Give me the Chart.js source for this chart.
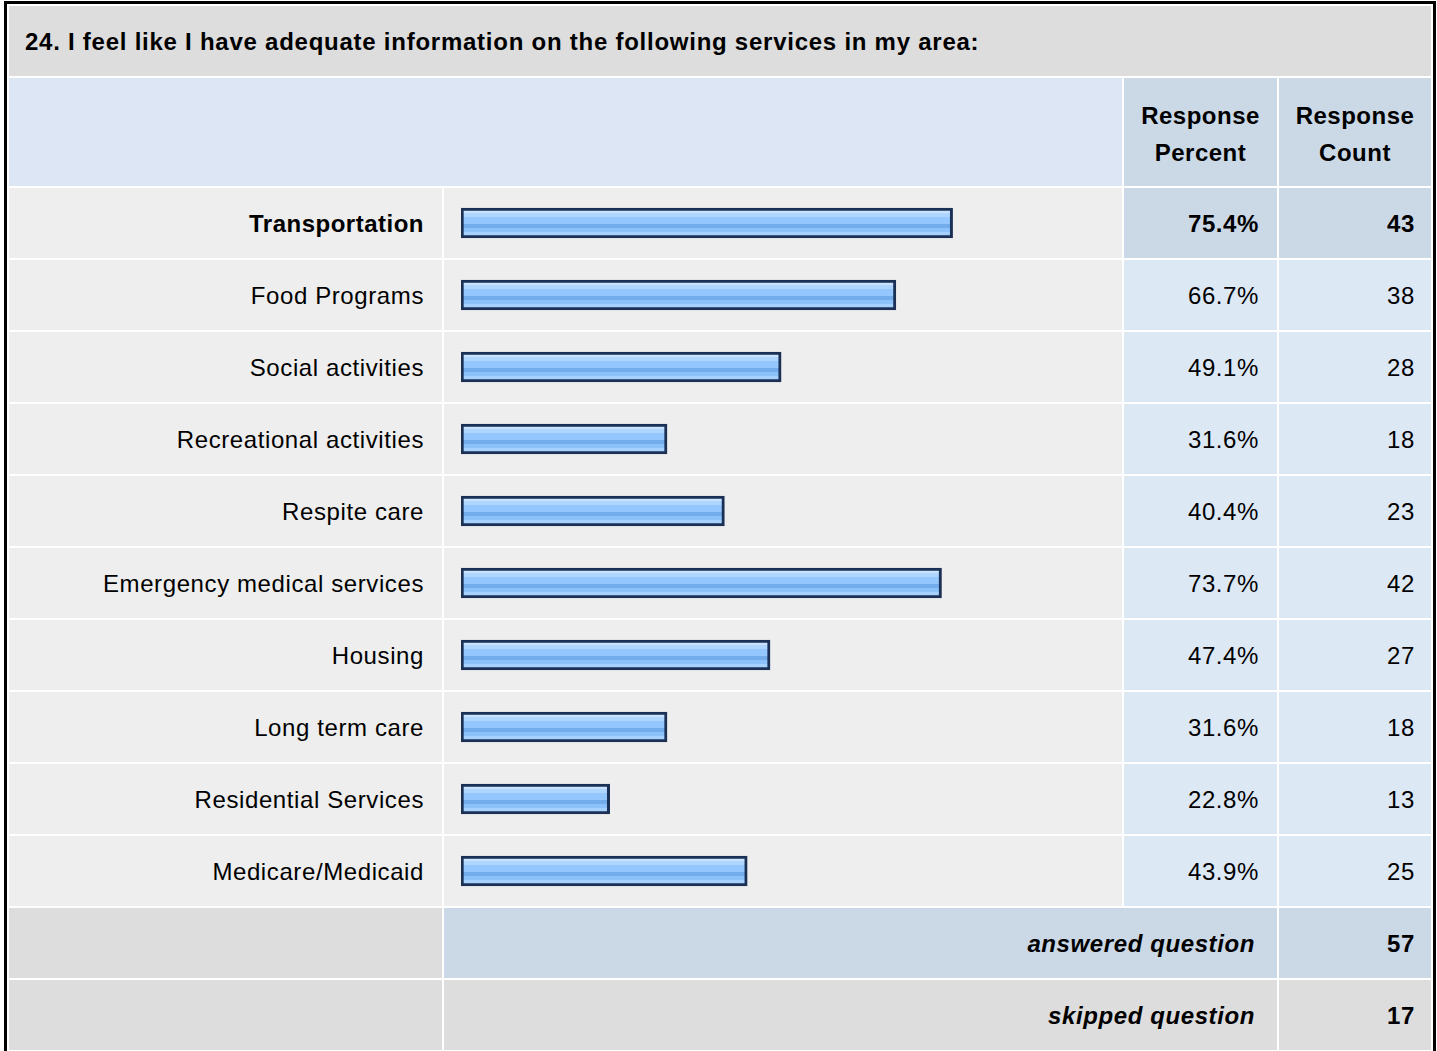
<!DOCTYPE html>
<html>
<head>
<meta charset="utf-8">
<title>Survey question 24</title>
<script src="https://cdn.jsdelivr.net/npm/chart.js@4"></script>
<style>
  html, body { margin: 0; padding: 0; background: #fff; }
  body { width: 1437px; height: 1051px; overflow: hidden; position: relative;
         font-family: "Liberation Sans", Arial, sans-serif; color: #000; }
  .frame { position: absolute; left: 4px; top: 1px; border: 3px solid #000;
           background: #fff; padding: 2px; }
  .grid { display: grid; gap: 2px;
          grid-template-columns: 433px 678px 153px 152px;
          grid-template-rows: 70px 108px repeat(12, 70px); }
  .cell { display: flex; align-items: center; font-size: 24px; letter-spacing: 0.6px;
          box-sizing: border-box; white-space: nowrap; }
  .title { grid-column: 1 / 5; background: #dddddd; font-weight: bold; padding-left: 16px; padding-top: 2px; letter-spacing: 0.75px; }
  .head-blank { grid-column: 1 / 3; background: #dce6f4; }
  .head { background: #cbd8e6; font-weight: bold; justify-content: center; text-align: center; line-height: 37px; padding-top: 4px; letter-spacing: 0.5px; }
  .label { background: #eeeeee; justify-content: flex-end; padding-right: 18px; padding-top: 1px; }
  .barcell { background: #eeeeee; }
  .num { background: #dde8f5; justify-content: flex-end; padding-right: 18px; padding-top: 1px; }
  .cnt { padding-right: 16px; }
  .hl { background: #cbd8e6; font-weight: bold; }
  .bold { font-weight: bold; letter-spacing: 0.5px; }
  .gray { background: #dddddd; }
  .sum { grid-column: 2 / 4; justify-content: flex-end; padding-right: 22px; padding-top: 1px; font-weight: bold; font-style: italic; }
  .sumnum { justify-content: flex-end; padding-right: 16px; padding-top: 1px; font-weight: bold; }
  .blue { background: #cbd8e6; }
  #barsWrap { position: absolute; left: 444px; top: 187px; width: 678px; height: 720px; }
</style>
</head>
<body>
<div class="frame"><div class="grid" id="grid"></div></div>
<div id="barsWrap"><canvas id="barsChart" width="678" height="720"></canvas></div>

<script>
const questionTitle = '24. I feel like I have adequate information on the following services in my area:';
const services = [
    'Transportation',
    'Food Programs',
    'Social activities',
    'Recreational activities',
    'Respite care',
    'Emergency medical services',
    'Housing',
    'Long term care',
    'Residential Services',
    'Medicare/Medicaid'
];
const percents = [75.4, 66.7, 49.1, 31.6, 40.4, 73.7, 47.4, 31.6, 22.8, 43.9];
const counts = [43, 38, 28, 18, 23, 42, 27, 18, 13, 25];
const answeredCount = 57;
const skippedCount = 17;

// highest answer gets the bold / darker row
const topIndex = percents.indexOf(Math.max(...percents));

function addCell(cls, html) {
    const d = document.createElement('div');
    d.className = 'cell ' + cls;
    d.innerHTML = html;
    document.getElementById('grid').appendChild(d);
}

function buildTable() {
    addCell('title', questionTitle);
    addCell('head-blank', '');
    addCell('head', 'Response<br>Percent');
    addCell('head', 'Response<br>Count');

    services.forEach((name, i) => {
        const top = i === topIndex;
        addCell('label' + (top ? ' bold' : ''), name);
        addCell('barcell', '');
        addCell('num' + (top ? ' hl' : ''), percents[i].toFixed(1) + '%');
        addCell('num cnt' + (top ? ' hl' : ''), String(counts[i]));
    });

    addCell('gray', '');
    addCell('sum blue', 'answered question');
    addCell('sumnum blue', String(answeredCount));

    addCell('gray', '');
    addCell('sum gray', 'skipped question');
    addCell('sumnum gray', String(skippedCount));
}

// glossy striped fill, built per bar from its category position
function barFill(context) {
    const chart = context.chart;
    const yScale = chart.scales.y;
    const fallback = '#96c9fd';
    if (!yScale || context.type !== 'data') return fallback;
    const cy = yScale.getPixelForValue(context.dataIndex);
    if (!Number.isFinite(cy)) return fallback;
    const top = cy - 12, bottom = cy + 12;
    const g = chart.ctx.createLinearGradient(0, top, 0, bottom);
    const stops = [
        [0.00, '#c9e3ff'], [0.10, '#c9e3ff'],
        [0.10, '#aed5ff'], [0.26, '#aed5ff'],
        [0.26, '#94c7fd'], [0.56, '#94c7fd'],
        [0.56, '#73acea'], [0.72, '#73acea'],
        [0.72, '#8cc1f9'], [0.86, '#8cc1f9'],
        [0.86, '#a6d1ff'], [1.00, '#a6d1ff']
    ];
    stops.forEach(([o, c]) => g.addColorStop(o, c));
    return g;
}

function renderBars() {
    const ctx = document.getElementById('barsChart');
    new Chart(ctx, {
        type: 'bar',
        data: {
            labels: services,
            datasets: [{
                data: percents,
                backgroundColor: barFill,
                borderColor: '#1b3055',
                borderWidth: 3,
                borderSkipped: false,
                barThickness: 30
            }]
        },
        options: {
            indexAxis: 'y',
            responsive: false,
            animation: false,
            devicePixelRatio: 1,
            layout: { padding: { left: 17, right: 9, top: 0, bottom: 0 } },
            scales: {
                x: { min: 0, max: 100, display: false },
                y: { display: false }
            },
            plugins: {
                legend: { display: false },
                tooltip: { enabled: false }
            }
        }
    });
}

buildTable();
renderBars();
</script>
</body>
</html>
